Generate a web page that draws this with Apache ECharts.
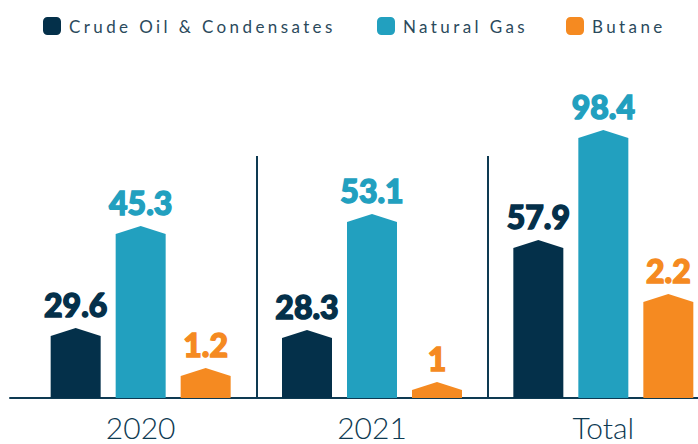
<!DOCTYPE html>
<html>
<head>
<meta charset="utf-8">
<script src="https://cdn.jsdelivr.net/npm/echarts@6/dist/echarts.min.js"></script>
<style>
  html, body { margin: 0; padding: 0; background: #fff; width: 698px; height: 444px; overflow: hidden; }
  /* the chart is a bit wider than the window: the last group runs past the right edge */
  #chart { width: 719px; height: 444px; }
  /* legend text is letter-spaced in the original */
  #chart text[style*="17px"] { letter-spacing: 3.4px; }
</style>
</head>
<body>
<div id="chart"></div>
<script>
var categories = ["2020", "2021", "Total"];
var seriesNames = ["Crude Oil & Condensates", "Natural Gas", "Butane"];

// printed values
var crudeValues = [29.6, 28.3, 57.9];
var gasValues = [45.3, 53.1, 98.4];
var butaneValues = [1.2, 1, 2.2];

// bar heights as drawn in the picture (not to scale with the values)
var crudeHeights = [62, 60, 150];
var gasHeights = [164, 176, 260];
var butaneHeights = [22, 8, 96];

var colors = ["#04304a", "#22a0bf", "#f58a21"];
var legendLeft = [43, 377, 566];
var separatorTop = 242;

var values = [crudeValues, gasValues, butaneValues];
var heights = [crudeHeights, gasHeights, butaneHeights];

var series = [];
for (var i = 0; i < 3; i++) {
  (function (i) {
    series.push({
      name: seriesNames[i],
      type: "bar",
      barWidth: 50,
      barGap: "30%",
      data: heights[i],
      itemStyle: { color: colors[i] },
      label: {
        show: true,
        position: "top",
        distance: 16,
        color: colors[i],
        fontFamily: "Lato",
        fontWeight: 900,
        fontSize: 32,
        textBorderColor: colors[i],
        textBorderWidth: 1.4,
        formatter: function (p) {
          return values[i][p.dataIndex];
        }
      }
    });
    series.push({
      name: seriesNames[i],
      type: "pictorialBar",
      barWidth: 50,
      barGap: "30%",
      symbol: "triangle",
      symbolSize: [50, 8],
      symbolPosition: "end",
      symbolOffset: [0, "-100%"],
      data: heights[i],
      itemStyle: { color: colors[i] },
      silent: true
    });
  })(i);
}

// group separators
series.push({
  type: "line",
  xAxisIndex: 1,
  data: [],
  silent: true,
  markLine: {
    symbol: "none",
    silent: true,
    label: { show: false },
    lineStyle: { color: "#0e3a52", width: 2, type: "solid" },
    data: [
      [{ coord: [1, 0] }, { coord: [1, separatorTop] }],
      [{ coord: [2, 0] }, { coord: [2, separatorTop] }]
    ]
  }
});

var legends = [];
for (var k = 0; k < 3; k++) {
  legends.push({
    data: [seriesNames[k]],
    left: legendLeft[k],
    top: 17,
    padding: 0,
    icon: "roundRect",
    itemWidth: 18,
    itemHeight: 18,
    selectedMode: false,
    textStyle: {
      fontFamily: "Lato",
      fontSize: 17,
      color: "#2b4a5c",
      padding: [0, 0, 0, 3]
    }
  });
}

var option = {
  animation: false,
  backgroundColor: "#fff",
  legend: legends,
  grid: [
    { left: 25, right: 0, top: 98, bottom: 46 },
    { left: 10, right: 0, top: 98, bottom: 46 }
  ],
  xAxis: [
    {
      type: "category",
      gridIndex: 0,
      data: categories,
      axisLine: { show: false },
      axisTick: { show: false },
      axisLabel: {
        color: "#0e3a52",
        fontFamily: "Lato",
        fontWeight: 300,
        fontSize: 30,
        margin: 14
      }
    },
    {
      type: "value",
      gridIndex: 0,
      min: 0,
      max: 3,
      show: false
    },
    {
      type: "value",
      gridIndex: 1,
      min: 0,
      max: 1,
      axisLine: { show: true, lineStyle: { color: "#0e3a52", width: 2 } },
      axisTick: { show: false },
      axisLabel: { show: false },
      splitLine: { show: false }
    }
  ],
  yAxis: [
    { type: "value", gridIndex: 0, min: 0, max: 300, show: false },
    { type: "value", gridIndex: 1, min: 0, max: 300, show: false }
  ],
  series: series
};

var myChart = echarts.init(document.getElementById("chart"), null, { renderer: "svg" });
myChart.setOption(option);
</script>
</body>
</html>
